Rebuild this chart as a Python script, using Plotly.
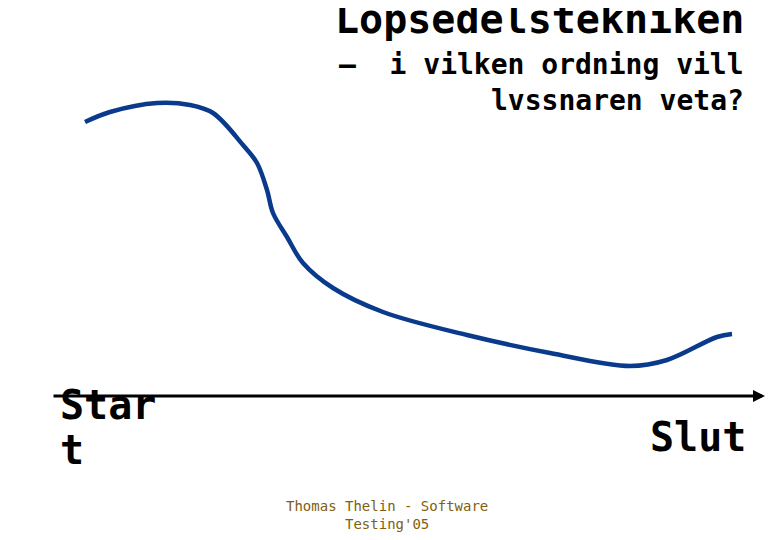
import plotly.graph_objects as go

# Curve (hand-drawn interest curve), sampled in picture coordinates
curve_x = [85, 110, 157, 190, 213, 243, 257, 267, 273, 287, 303, 333, 383, 467, 550, 630, 667, 717, 732]
curve_y = [122, 112, 103, 105, 113, 145, 163, 190, 213, 237, 263, 288, 312, 335, 353, 366, 360, 337, 334]

title_text = "Löpsedelstekniken"
sub_line1 = "\u2013\u00a0\u00a0i vilken ordning vill"
sub_line2 = "lvssnaren veta?"
start_line1 = "Star"
start_line2 = "t"
end_label = "Slut"
footer_line1 = "Thomas Thelin - Software"
footer_line2 = "Testing'05"

MONO = "DejaVu Sans Mono, Liberation Mono, monospace"
OFF = 8  # page body margin compensation

fig = go.Figure()
fig.add_trace(go.Scatter(
    x=curve_x, y=curve_y, mode="lines",
    line=dict(color="#0a3a8c", width=4.5, shape="spline", smoothing=1.0),
    hoverinfo="skip", showlegend=False,
))

def txt(x, y, s, size, anchor, bold=True, color="#000000", align="left"):
    return dict(x=x, y=y, xref="x", yref="y", text=("<b>" + s + "</b>") if bold else s,
                showarrow=False, xanchor=anchor, yanchor="middle", align=align,
                font=dict(family=MONO, size=size, color=color))

annotations = [
    # time axis arrow
    dict(x=765, y=396, ax=52, ay=396, xref="x", yref="y", axref="x", ayref="y",
         text="", showarrow=True, arrowhead=2, arrowsize=0.8, arrowwidth=3,
         arrowcolor="#000000"),
    txt(746, 19, title_text, 40, "right"),
    txt(746, 64, sub_line1, 28, "right"),
    txt(746, 100, sub_line2, 28, "right"),
    txt(58, 405, start_line1, 40, "left"),
    txt(58, 450, start_line2, 40, "left"),
    txt(748, 437, end_label, 40, "right"),
    dict(x=387, y=515, xref="x", yref="y", text=footer_line1 + "<br>" + footer_line2,
         showarrow=False, xanchor="center", yanchor="middle", align="center",
         font=dict(family=MONO, size=14, color="#806010")),
]

fig.update_layout(
    width=780 - OFF, height=540 - OFF,
    margin=dict(l=0, r=0, t=0, b=0),
    paper_bgcolor="white", plot_bgcolor="white",
    xaxis=dict(range=[OFF, 780], visible=False, fixedrange=True),
    yaxis=dict(range=[540, OFF], visible=False, fixedrange=True),
    annotations=annotations,
    showlegend=False,
)

fig.write_html("out.html")
